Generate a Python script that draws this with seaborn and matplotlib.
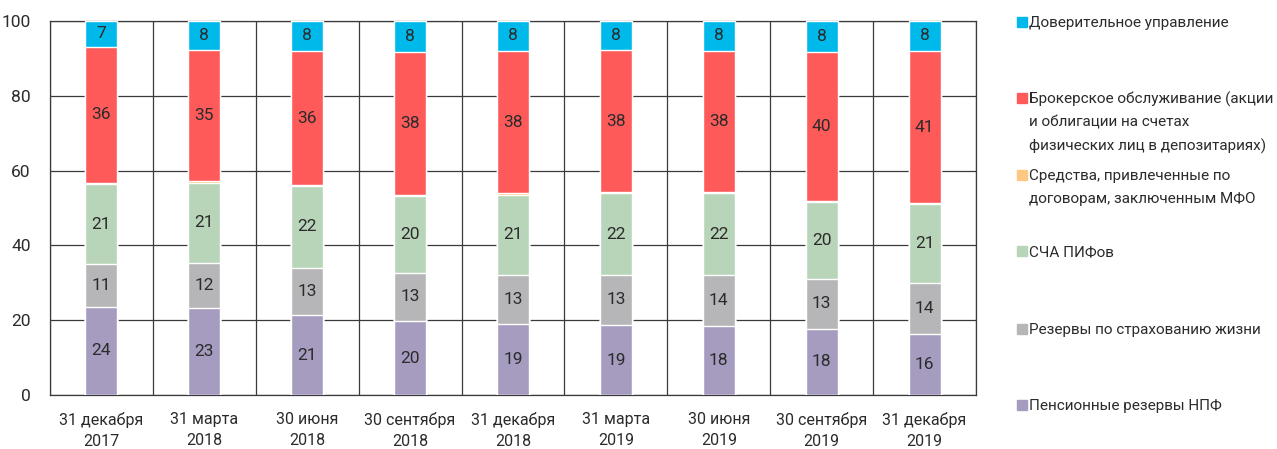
import numpy as np
import pandas as pd
import matplotlib
matplotlib.use("Agg")
import matplotlib.pyplot as plt
import seaborn as sns
from matplotlib.patches import Rectangle

dates = ["31 декабря\n2017", "31 марта\n2018", "30 июня\n2018", "30 сентября\n2018",
         "31 декабря\n2018", "31 марта\n2019", "30 июня\n2019", "30 сентября\n2019",
         "31 декабря\n2019"]
pension = [23.7, 23.4, 21.4, 19.9, 18.95, 18.8, 18.4, 17.8, 16.4]
insurance = [11.4, 12.0, 12.7, 12.8, 13.2, 13.3, 13.7, 13.3, 13.6]
pif = [21.2, 21.4, 21.7, 20.4, 21.45, 21.8, 21.8, 20.4, 21.0]
mfo = [0.45, 0.35, 0.35, 0.35, 0.3, 0.3, 0.35, 0.35, 0.3]
broker = [36.2, 35.0, 35.7, 38.2, 38.1, 37.9, 37.6, 39.9, 40.6]
trust = [7.05, 7.85, 8.15, 8.35, 8.0, 7.9, 8.15, 8.25, 8.1]

legend_labels = [
    ["Доверительное управление"],
    ["Брокерское обслуживание (акции", "и облигации на счетах", "физических лиц в депозитариях)"],
    ["Средства, привлеченные по", "договорам, заключенным МФО"],
    ["СЧА ПИФов"],
    ["Резервы по страхованию жизни"],
    ["Пенсионные резервы НПФ"],
]

colors = ["#A69CC0", "#B6B6B8", "#B9D5B9", "#FFC882", "#FF5A5A", "#00B9EB"]

sns.set_theme(style="white")
plt.rcParams['font.family'] = ['Roboto', 'DejaVu Sans']

W, H = 1277, 449
fig = plt.figure(figsize=(W / 100, H / 100), dpi=100)
ax = fig.add_axes([50 / W, 1 - 395.3 / H, (976 - 50) / W, (395.3 - 20.7) / H])

layers = [pension, insurance, pif, mfo, broker, trust]
cum = np.cumsum(np.array(layers), axis=0)
df = pd.DataFrame({"date": dates})
for i in reversed(range(len(layers))):
    df["v"] = cum[i]
    sns.barplot(data=df, x="date", y="v", color=colors[i], width=0.31,
                saturation=1, ax=ax, zorder=3)

text_col = "#2b2b2b"
for li, layer in enumerate(layers):
    if li == 3:
        continue
    for xi, v in enumerate(layer):
        ax.text(xi, cum[li][xi] - v / 2, f"{v:.0f}", ha="center", va="center",
                fontsize=12.5, color=text_col, zorder=4)

line_col = "#3a3a3a"
ax.set_ylim(0, 100)
ax.set_xlim(-0.5, 8.5)
ax.set_yticks(np.arange(0, 101, 20))
ax.set_xticks(np.arange(-0.5, 9, 1), minor=True)
ax.yaxis.grid(True, color=line_col, lw=0.9, zorder=0)
ax.xaxis.grid(True, which="minor", color=line_col, lw=0.9, zorder=0)
ax.xaxis.grid(False, which="major")
ax.set_axisbelow(True)
for s in ax.spines.values():
    s.set_visible(True)
    s.set_color(line_col)
    s.set_linewidth(0.9)
ax.set_xlabel("")
ax.set_ylabel("")
ax.tick_params(axis="both", which="both", length=0, labelsize=12.5, colors=text_col)
ax.tick_params(axis="y", pad=14)
ax.tick_params(axis="x", pad=12, labelsize=11.5)
for t in ax.get_xticklabels():
    t.set_linespacing(1.5)

# legend drawn at the right
leg_colors = list(reversed(colors))
first_line_y = [22.7, 99.3, 176, 252, 330, 406]
step = 23.5
for lab, col, y0 in zip(legend_labels, leg_colors, first_line_y):
    fig.patches.append(Rectangle((1017 / W, 1 - (y0 + 4) / H), 10 / W, 10 / H,
                                 transform=fig.transFigure, color=col, figure=fig))
    for k, line in enumerate(lab):
        fig.text(1029 / W, 1 - (y0 + k * step) / H, line, ha="left", va="center",
                 fontsize=11, color=text_col)

fig.savefig("out.png", dpi=100)
